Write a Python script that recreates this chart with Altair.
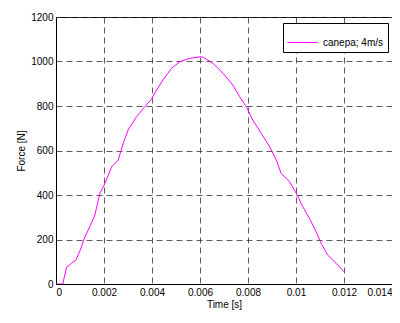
import altair as alt
import pandas as pd

time_s = [0.0, 0.00028, 0.00044, 0.00065, 0.00083, 0.0010, 0.0012, 0.00141, 0.00162,
          0.00183, 0.00204, 0.00232, 0.00259, 0.0028, 0.0030, 0.00336, 0.0037, 0.00398,
          0.00419, 0.00446, 0.00481, 0.00516, 0.00557, 0.0060, 0.00612, 0.00654, 0.00696,
          0.00737, 0.00765, 0.00793, 0.0082, 0.00855, 0.0089, 0.00918, 0.00938, 0.00973,
          0.01001, 0.01028, 0.01056, 0.01084, 0.01105, 0.01132, 0.01167, 0.0120]
force_n = [0, 0, 75, 93, 108, 150, 210, 258, 310,
           408, 452, 527, 557, 632, 692, 752, 797, 831,
           872, 917, 969, 999, 1014, 1021, 1020, 992, 947,
           894, 842, 797, 737, 677, 617, 557, 497, 460,
           408, 348, 295, 235, 183, 130, 93, 55]
series_name = "canepa; 4m/s"

x_ticks = [0, 0.002, 0.004, 0.006, 0.008, 0.01, 0.012, 0.014]
y_ticks = [0, 200, 400, 600, 800, 1000, 1200]

df = pd.DataFrame({"t": time_s, "F": force_n, "s": [series_name] * len(time_s)})

font = "Liberation Sans"

chart = alt.Chart(df).mark_line(strokeWidth=1, clip=True).encode(
    x=alt.X("t:Q", scale=alt.Scale(domain=[0, 0.014], nice=False, zero=False),
            axis=alt.Axis(values=x_ticks, format="~g", title="Time [s]")),
    y=alt.Y("F:Q", scale=alt.Scale(domain=[0, 1200], nice=False),
            axis=alt.Axis(values=y_ticks, format="d", title="Force [N]")),
    color=alt.Color("s:N", scale=alt.Scale(range=["#ff00ff"]),
                    legend=alt.Legend(title=None, orient="none", legendX=227, legendY=6,
                                      symbolType="stroke", symbolSize=900,
                                      symbolStrokeWidth=1, strokeColor="black",
                                      fillColor="white", padding=4, labelOffset=5,
                                      labelFont=font, labelFontSize=10,
                                      labelColor="black")),
).properties(
    width=336, height=267,
    autosize=alt.AutoSizeParams(type="none"),
    padding={"left": 48, "top": 9, "right": 0, "bottom": 30},
).configure_view(
    stroke="black", strokeWidth=1
).configure_axis(
    grid=True, gridColor="#333", gridDash=[6, 4], gridOpacity=0.8, gridWidth=1,
    domain=True, domainColor="black", ticks=False,
    labelFont=font, labelFontSize=10, labelColor="black", labelPadding=3,
    titleFont=font, titleFontSize=10, titleFontWeight="normal", titleColor="black",
).configure_axisX(
    titlePadding=2
).configure_axisY(
    titlePadding=4
)

chart.save("out.html", embed_options={"renderer": "svg", "actions": False})
